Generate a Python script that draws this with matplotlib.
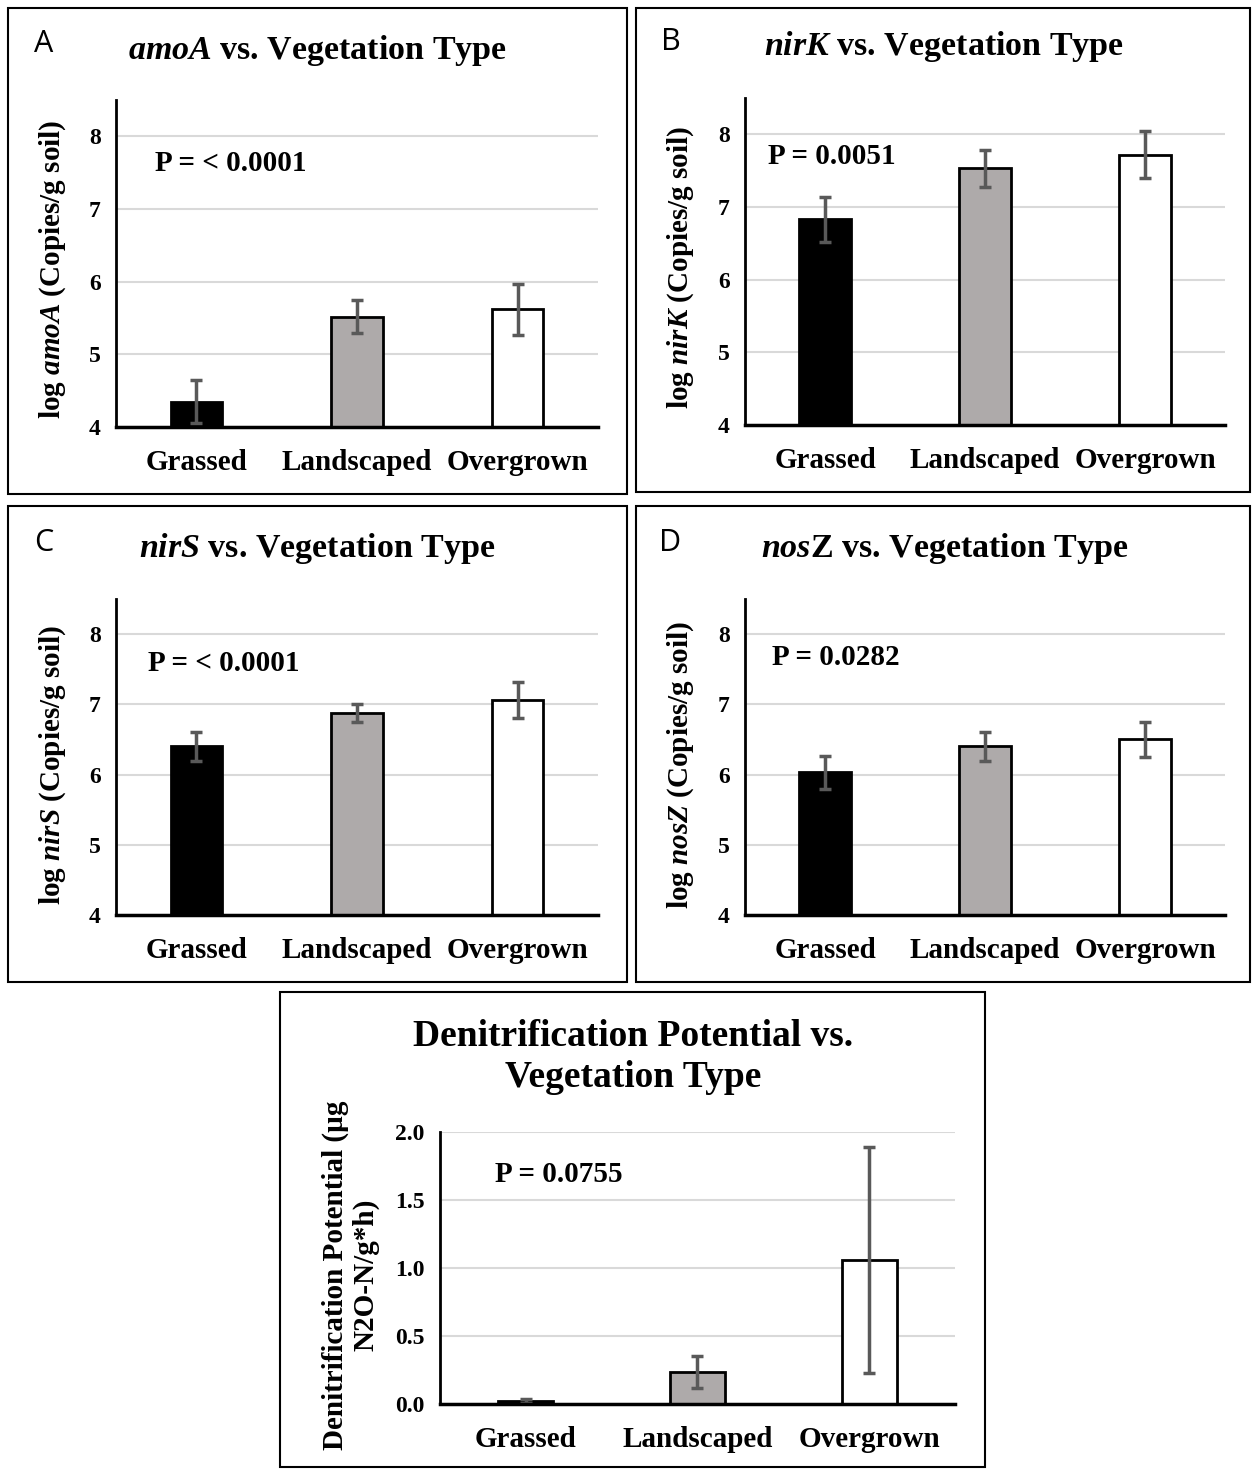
import numpy as np
import matplotlib
matplotlib.use("Agg")
import matplotlib.pyplot as plt
from matplotlib.patches import Rectangle

plt.rcParams['font.family'] = 'Liberation Serif'
plt.rcParams['font.weight'] = 'bold'
plt.rcParams['mathtext.fontset'] = 'custom'
plt.rcParams['mathtext.rm'] = 'Liberation Serif:bold'
plt.rcParams['mathtext.it'] = 'Liberation Serif:italic:bold'
plt.rcParams['mathtext.bf'] = 'Liberation Serif:bold'
plt.rcParams['mathtext.bfit'] = 'Liberation Serif:italic:bold'

categories = ["Grassed", "Landscaped", "Overgrown"]
bar_colors = ["black", "#aeaaaa", "white"]

# gene copy numbers (log copies / g soil), means and standard errors
amoA_mean = [4.35, 5.52, 5.62]
amoA_err = [0.30, 0.23, 0.35]
nirK_mean = [6.83, 7.53, 7.72]
nirK_err = [0.31, 0.25, 0.32]
nirS_mean = [6.40, 6.88, 7.06]
nirS_err = [0.21, 0.13, 0.26]
nosZ_mean = [6.03, 6.40, 6.50]
nosZ_err = [0.24, 0.20, 0.25]

# denitrification potential (ug N2O-N / g*h)
dp_mean = [0.02, 0.235, 1.06]
dp_err = [0.015, 0.12, 0.83]

p_values = ["P = < 0.0001", "P = 0.0051", "P = < 0.0001", "P = 0.0282", "P = 0.0755"]

W, H = 1252, 1469
fig = plt.figure(figsize=(W / 100, H / 100), dpi=100)


def px_axes(x0, y0, x1, y1):
    return fig.add_axes([x0 / W, 1 - y1 / H, (x1 - x0) / W, (y1 - y0) / H])


def px_box(x0, y0, x1, y1):
    fig.patches.append(Rectangle((x0 / W, 1 - y1 / H), (x1 - x0) / W, (y1 - y0) / H,
                                 transform=fig.transFigure, fill=False,
                                 edgecolor='black', linewidth=1.5))


def ftext(x, y, s, **kw):
    return fig.text(x / W, 1 - y / H, s, **kw)


def bar_panel(ax, means, errs, ylim, yticks, fmt, ptext, pxy):
    x = np.arange(len(categories))
    ax.bar(x, means, width=0.32, color=bar_colors, edgecolor='black',
           linewidth=2, zorder=3)
    ax.errorbar(x, means, yerr=errs, fmt='none', ecolor='#595959',
                elinewidth=2.5, capsize=4, capthick=2.5, zorder=4)
    ax.set_xlim(-0.5, 2.5)
    ax.set_ylim(*ylim)
    ax.set_yticks(yticks)
    ax.set_yticklabels([fmt.format(t) for t in yticks])
    ax.set_xticks(x)
    ax.set_xticklabels(categories, fontsize=21)
    ax.tick_params(axis='both', length=0)
    ax.tick_params(axis='y', labelsize=17, pad=11)
    ax.tick_params(axis='x', pad=16)
    ax.yaxis.grid(True, color='#d9d9d9', linewidth=1.5, zorder=0)
    ax.set_axisbelow(True)
    for s in ['top', 'right']:
        ax.spines[s].set_visible(False)
    ax.spines['left'].set_linewidth(2)
    ax.spines['bottom'].set_linewidth(2.5)
    ax.spines['left'].set_zorder(5)
    ax.spines['bottom'].set_zorder(5)
    ax.text(pxy[0], pxy[1], ptext, transform=ax.transAxes, fontsize=21,
            ha='left', va='center')


gene_ticks = [4, 5, 6, 7, 8]

# panel A
px_box(8, 8, 627, 494)
axA = px_axes(116, 100, 598, 427)
bar_panel(axA, amoA_mean, amoA_err, (4, 8.5), gene_ticks, "{:.0f}", p_values[0], (0.081, 0.807))
ftext(44, 44, "A", family='Open Sans', weight='normal', fontsize=22, ha='center', va='center')
ftext(317, 50, r"$\mathbfit{amoA}$ vs. Vegetation Type", fontsize=24.5, ha='center', va='center')
ftext(53, 269, r"log $\mathbfit{amoA}$ (Copies/g soil)", fontsize=21, rotation=90, ha='center', va='center')

# panel B
px_box(636, 8, 1250, 492)
axB = px_axes(745, 98, 1225, 425)
bar_panel(axB, nirK_mean, nirK_err, (4, 8.5), gene_ticks, "{:.0f}", p_values[1], (0.048, 0.82))
ftext(671, 42, "B", family='Open Sans', weight='normal', fontsize=22, ha='center', va='center')
ftext(944, 47, r"$\mathbfit{nirK}$ vs. Vegetation Type", fontsize=24.5, ha='center', va='center')
ftext(681, 267, r"log $\mathbfit{nirK}$ (Copies/g soil)", fontsize=21, rotation=90, ha='center', va='center')

# panel C
px_box(8, 506, 627, 982)
axC = px_axes(116, 599, 598, 915)
bar_panel(axC, nirS_mean, nirS_err, (4, 8.5), gene_ticks, "{:.0f}", p_values[2], (0.066, 0.797))
ftext(44, 543, "C", family='Open Sans', weight='normal', fontsize=22, ha='center', va='center')
ftext(317, 549, r"$\mathbfit{nirS}$ vs. Vegetation Type", fontsize=24.5, ha='center', va='center')
ftext(53, 765, r"log $\mathbfit{nirS}$ (Copies/g soil)", fontsize=21, rotation=90, ha='center', va='center')

# panel D
px_box(636, 506, 1250, 982)
axD = px_axes(745, 599, 1225, 915)
bar_panel(axD, nosZ_mean, nosZ_err, (4, 8.5), gene_ticks, "{:.0f}", p_values[3], (0.056, 0.816))
ftext(670, 543, "D", family='Open Sans', weight='normal', fontsize=22, ha='center', va='center')
ftext(945, 549, r"$\mathbfit{nos}$Z vs. Vegetation Type", fontsize=24.5, ha='center', va='center')
ftext(681, 765, r"log $\mathbfit{nosZ}$ (Copies/g soil)", fontsize=21, rotation=90, ha='center', va='center')

# panel E - denitrification potential
px_box(280, 992, 985, 1467)
axE = px_axes(440, 1132, 955, 1404)
bar_panel(axE, dp_mean, dp_err, (0, 2.0), [0, 0.5, 1.0, 1.5, 2.0], "{:.1f}", p_values[4], (0.107, 0.842))
ftext(633, 1057, "Denitrification Potential vs.\nVegetation Type", fontsize=27,
      ha='center', va='center', linespacing=1.25)
ftext(351, 1275, "Denitrification Potential (µg\nN2O-N/g*h)", fontsize=21, rotation=90,
      ha='center', va='center', linespacing=1.15)

fig.savefig("out.png", dpi=100)
